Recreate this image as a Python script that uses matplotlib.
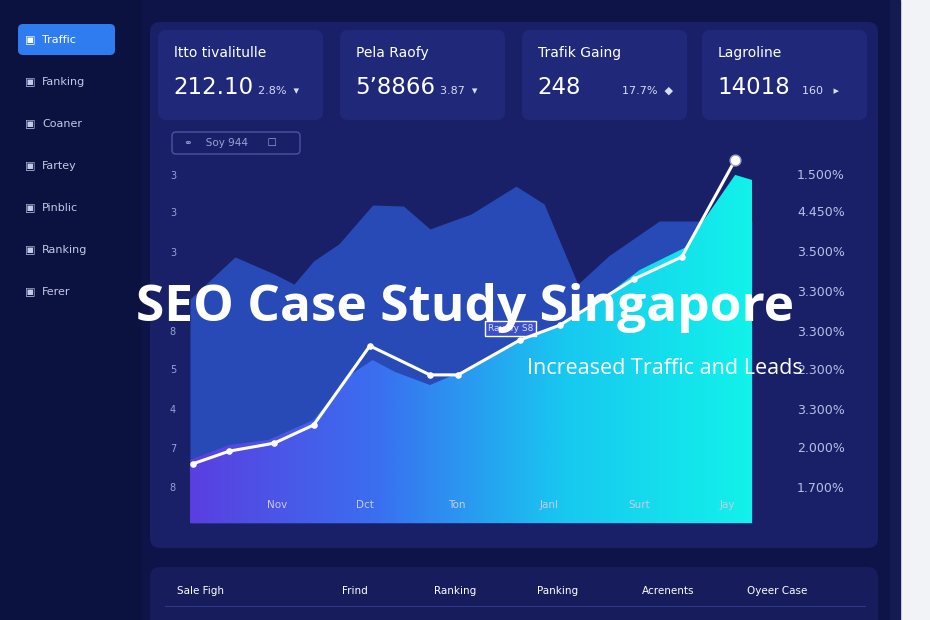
import numpy as np
import matplotlib
matplotlib.use("Agg")
import matplotlib.pyplot as plt
from matplotlib.patches import FancyBboxPatch, Polygon
from matplotlib.colors import LinearSegmentedColormap

# ---- data ----
line_x = [0.5, 7, 15, 22, 32, 42.7, 47.7, 58.7, 65.8, 79, 87.5, 97]
line_y = [16.3, 19.8, 22, 27, 48.8, 40.8, 40.8, 50.4, 54.5, 67.2, 73.3, 100]
back_x = [0, 8, 15, 18.5, 22, 26.5, 32.5, 38, 42.7, 50, 58, 63, 69, 74.5, 83.5, 90.5, 100]
back_y = [61.7, 73.3, 68.6, 65.8, 72.2, 76.9, 87.6, 87.3, 81, 85.1, 92.8, 87.9, 65.8, 73.6, 83.2, 83.2, 83.2]
front_x = [0, 7, 14, 22, 28.5, 32.5, 36.5, 42.7, 49.8, 56.9, 65.8, 73, 80, 88, 97, 100]
front_y = [17.4, 21.5, 22.9, 28.4, 40.8, 44.9, 41.6, 38, 42.7, 49, 54.5, 61.4, 69.7, 75.8, 95.9, 94.5]
x_labels = ["Nov", "Dct", "Ton", "Janl", "Surt", "Jay"]
x_label_pos = [15.5, 31.1, 47.5, 63.9, 79.9, 95.6]
left_labels = ["3", "3", "3", "3", "8", "5", "4", "7", "8"]
right_labels = ["1.500%", "4.450%", "3.500%", "3.300%", "3.300%", "2.300%", "3.300%", "2.000%", "1.700%"]
label_ys = [95.6, 85.4, 74.4, 63.4, 52.6, 42.1, 31.1, 20.4, 9.6]
card_titles = ["ltto tivalitulle", "Pela Raofy", "Trafik Gaing", "Lagroline"]
card_values = ["212.10", "5\u20198866", "248", "14018"]
card_changes = ["2.8%  \u25be", "3.87  \u25be", "17.7%  \u25c6", "160   \u25b8"]
side_items = ["Traffic", "Fanking", "Coaner", "Fartey", "Pinblic", "Ranking", "Ferer"]
table_headers = ["Sale Figh", "Frind", "Ranking", "Panking", "Acrenents", "Oyeer Case"]
table_x = [200, 355, 455, 558, 668, 777]

W, H = 930, 620
fig = plt.figure(figsize=(9.3, 6.2), dpi=100)
bg = fig.add_axes([0, 0, 1, 1])
bg.set_xlim(0, W); bg.set_ylim(H, 0); bg.axis("off")
bg.add_patch(plt.Rectangle((0, 0), W, H, color="#0e1448"))
bg.add_patch(plt.Rectangle((0, 0), 140, H, color="#0c1240"))
bg.add_patch(plt.Rectangle((900, 0), 30, H, color="#f2f3f7"))
bg.add_patch(plt.Rectangle((890, 0), 10, H, color="#141a52"))

def rbox(x0, y0, x1, y1, fc, r=8, ec="none", lw=1):
    bg.add_patch(FancyBboxPatch((x0 + r, y0 + r), x1 - x0 - 2 * r, y1 - y0 - 2 * r,
                                boxstyle=f"round,pad={r}", fc=fc, ec=ec, lw=lw))

# sidebar
rbox(18, 24, 115, 55, "#2f7cf0", r=5)
for i, s in enumerate(side_items):
    y = 40 + i * 42
    col = "white" if i == 0 else "#c4c9e8"
    bg.text(25, y, "\u25a3", color=col, fontsize=8, va="center")
    bg.text(42, y, s, color=col, fontsize=8, va="center")

# main panel
rbox(150, 22, 878, 548, "#1a2068", r=10)
card_x = [158, 340, 522, 702]
for cx, t, v, c in zip(card_x, card_titles, card_values, card_changes):
    rbox(cx, 30, cx + 165, 120, "#20287a", r=8)
    bg.text(cx + 16, 53, t, color="white", fontsize=10, va="center")
    bg.text(cx + 15, 88, v, color="white", fontsize=16.5, va="center")
    bg.text(cx + 100, 91, c, color="#d8dcf5", fontsize=8, va="center")
rbox(172, 132, 300, 154, "none", r=4, ec="#4a55a0")
bg.text(184, 143, "\u26ad    Soy 944      \u2610", color="#9aa2d8", fontsize=7.5, va="center")

# bottom panel
rbox(150, 567, 878, 640, "#161c5c", r=10)
for tx, h in zip(table_x, table_headers):
    bg.text(tx, 591, h, color="white", fontsize=7.5, va="center", ha="center")
bg.plot([165, 865], [606, 606], color="#2f3785", lw=0.8)

# chart axes
x0p, x1p, y0p, y1p = 190, 752, 160, 523
ax = fig.add_axes([x0p / W, 1 - y1p / H, (x1p - x0p) / W, (y1p - y0p) / H])
ax.set_xlim(0, 100); ax.set_ylim(0, 100); ax.axis("off")
ax.patch.set_alpha(0)
ax.fill_between(back_x, back_y, 0, color="#2a4fc0", alpha=0.9, lw=0)
grad = np.linspace(0, 1, 256).reshape(1, -1)
cmap = LinearSegmentedColormap.from_list("g", ["#5a3fe0", "#3a6ff0", "#18c8f0", "#12f2ea"])
im = ax.imshow(grad, extent=[0, 100, 0, 100], cmap=cmap, aspect="auto", zorder=2)
poly = Polygon(list(zip(front_x, front_y)) + [(100, 0), (0, 0)], closed=True,
               transform=ax.transData, fc="none", ec="none")
ax.add_patch(poly)
im.set_clip_path(poly)
ax.plot(line_x, line_y, color="white", lw=2.2, zorder=4, clip_on=False)
ax.scatter(line_x[:-1], line_y[:-1], s=14, color="white", zorder=5)
ax.scatter([line_x[-1]], [line_y[-1]], s=60, color="white", ec="#9aa0c8", zorder=5, clip_on=False)
for p, l in zip(x_label_pos, x_labels):
    ax.text(p, 5, l, color="#c6cbe8", fontsize=7.5, ha="center", va="center", zorder=6)
for yv, l in zip(label_ys, left_labels):
    ax.text(-2.5, yv, l, color="#9aa2d8", fontsize=7, ha="right", va="center", clip_on=False)
for yv, l in zip(label_ys, right_labels):
    ax.text(108, yv, l, color="#b8bfe6", fontsize=9, ha="left", va="center", clip_on=False)
ax.text(57, 53.5, "Ravefy S8", color="#d8dcf5", fontsize=6.5, ha="center", va="center", zorder=3,
        bbox=dict(fc="#3b4fc8", ec="white", lw=1, pad=2))

# overlay title
fig.text(465 / W, 1 - 308 / H, "SEO Case Study Singapore", color="white", fontsize=37,
         fontweight="bold", ha="center", va="center", family="Open Sans", zorder=10)
fig.text(803 / W, 1 - 368 / H, "Increased Traffic and Leads", color="white", fontsize=15.5,
         ha="right", va="center", family="Open Sans", zorder=10)

fig.savefig("out.png", dpi=100)
